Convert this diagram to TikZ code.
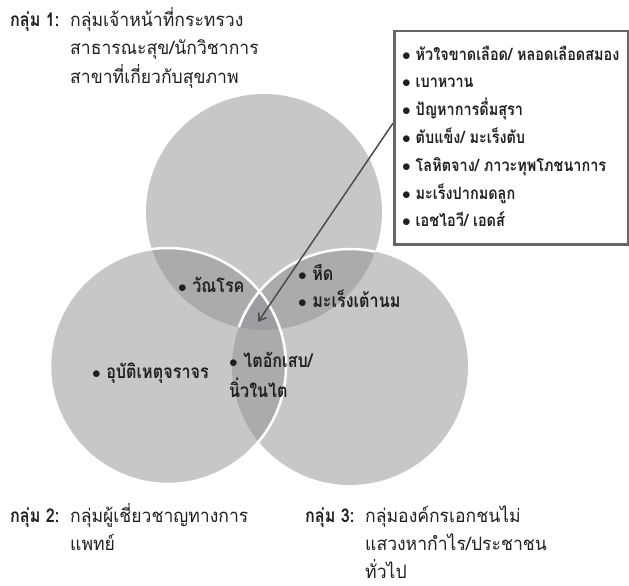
\documentclass[tikz,border=0pt]{standalone}
\usepackage{fontspec}
\setmainfont[Script=Thai,FakeStretch=0.95]{Loma}
\newfontfamily\narrowthai[Script=Thai,FakeStretch=0.85]{Loma}
\usepackage{tikz}
\usetikzlibrary{arrows.meta}
\definecolor{vennfill}{RGB}{143,144,148}
\definecolor{ink}{RGB}{35,31,32}

\begin{document}
\begin{tikzpicture}[x=1pt, y=-1pt, text=ink,
    set/.style={fill=vennfill, fill opacity=0.5},
    rim/.style={draw=white, line width=2.5pt},
    grouptitle/.style={anchor=base west, inner sep=0pt, font=\narrowthai\bfseries\fontsize{19}{28}\selectfont},
    groupbody/.style={anchor=base west, inner sep=0pt, align=left, font=\fontsize{18.5}{28}\selectfont},
    cause/.style={anchor=base west, inner sep=0pt, font=\narrowthai\bfseries\fontsize{19}{22}\selectfont},
    listitem/.style={cause, font=\narrowthai\bfseries\fontsize{17}{20}\selectfont},
    listbox/.style={draw=black!60, line width=2.5pt, fill=white, anchor=north west, inner sep=0pt},
    pointer/.style={-{Straight Barb[length=7pt,width=9pt]}, draw=black!70, line width=1.5pt}]
  \useasboundingbox (0,0) rectangle (629,586);
  % the three groups
  \fill[set] (264,212) circle (118pt);
  \fill[set] (350,367) circle (118pt);
  \fill[set] (168,366) circle (118pt);
  \draw[rim] (168,366) circle (118pt);
  \begin{scope}
    \clip (264,212) circle (118pt);
    \draw[rim] (350,367) circle (118pt);
  \end{scope}
  % list of diseases
  \coordinate (hit) at (258,322);
  \node[listbox, minimum width=234pt, minimum height=213pt] (list) at (393,30) {};
  \draw[pointer] ([yshift=14.5pt]list.west) -- (hit);
  \foreach \t [count=\i] in {หัวใจขาดเลือด/ หลอดเลือดสมอง, เบาหวาน, ปัญหาการดื่มสุรา,
      ตับแข็ง/ มะเร็งตับ, โลหิตจาง/ ภาวะทุพโภชนาการ, มะเร็งปากมดลูก, เอชไอวี/ เอดส์}
    \node[listitem] (item\i) at (402,{60+27.8*(\i-1)}) {$\bullet$ \t};
  % overlaps
  \node[cause] (tb) at (178,292) {$\bullet$ วัณโรค};
  \node[cause] (asthma) at (298,280) {$\bullet$ หืด};
  \node[cause] (breast) at (298,307) {$\bullet$ มะเร็งเต้านม};
  \node[cause] (road) at (92,378) {$\bullet$ อุบัติเหตุจราจร};
  \node[cause, align=left, font=\narrowthai\bfseries\fontsize{19}{30}\selectfont] (kidney) at (229,397) {$\bullet$ ไตอักเสบ/\\นิ่วในไต};
  % group titles
  \node[grouptitle] (g1) at (10,27) {กลุ่ม 1:};
  \node[groupbody] (g1text) at (70,83) {กลุ่มเจ้าหน้าที่กระทรวง\\สาธารณะสุข/นักวิชาการ\\สาขาที่เกี่ยวกับสุขภาพ};
  \node[grouptitle] (g2) at (10,522) {กลุ่ม 2:};
  \node[groupbody] (g2text) at (70,550) {กลุ่มผู้เชี่ยวชาญทางการ\\แพทย์};
  \node[grouptitle] (g3) at (305,522) {กลุ่ม 3:};
  \node[groupbody] (g3text) at (365,578) {กลุ่มองค์กรเอกชนไม่\\แสวงหากำไร/ประชาชน\\ทั่วไป};
\end{tikzpicture}
\end{document}
